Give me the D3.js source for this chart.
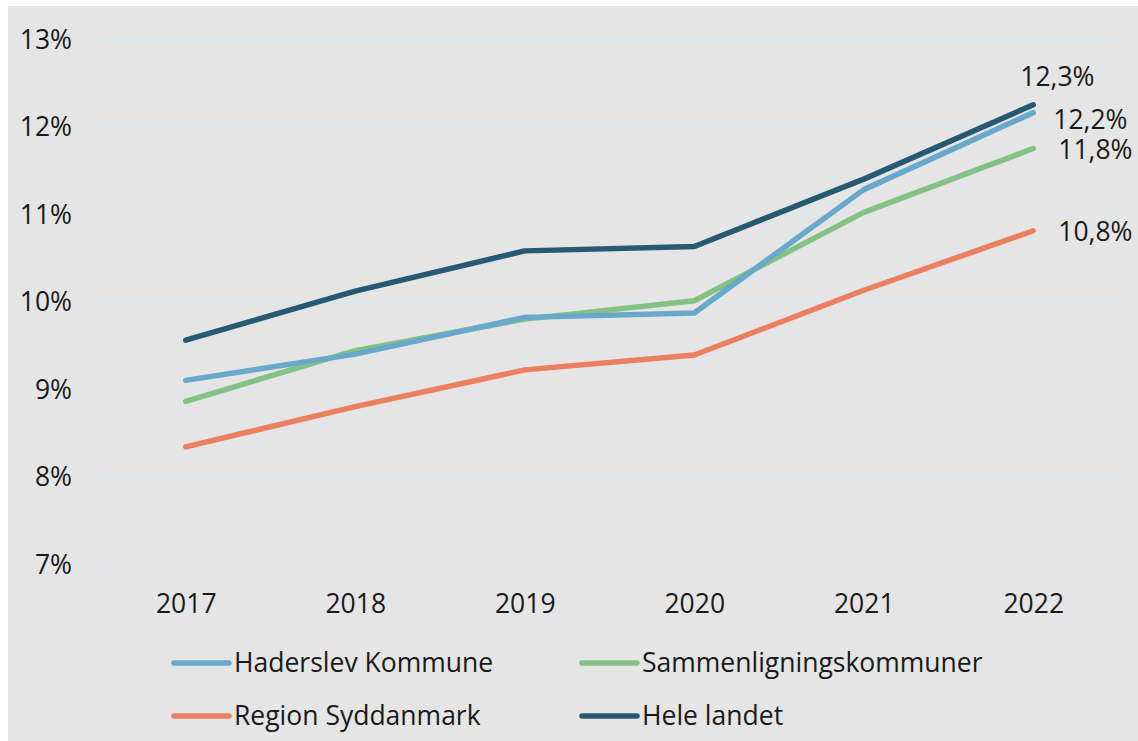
<!DOCTYPE html>
<html>
<head>
<meta charset="utf-8">
<script src="https://cdn.jsdelivr.net/npm/d3@7"></script>
<style>
  html, body { margin: 0; padding: 0; background: #ffffff; }
  svg { display: block; font-family: "Open Sans", "Noto Sans", sans-serif; }
</style>
</head>
<body>
<div id="chart-wrapper"></div>
<script>
const years = ["2017", "2018", "2019", "2020", "2021", "2022"];
const haderslev = [9.11, 9.41, 9.83, 9.88, 11.29, 12.17];
const sammenligning = [8.87, 9.45, 9.81, 10.02, 11.03, 11.76];
const region = [8.35, 8.81, 9.23, 9.40, 10.14, 10.82];
const heleLandet = [9.57, 10.13, 10.59, 10.64, 11.41, 12.26];
const yTicks = [7, 8, 9, 10, 11, 12, 13];

const series = [
      { name: "Haderslev Kommune", values: haderslev, color: "#68a8cb", labelDx: 20, labelDy: 7 },
      { name: "Sammenligningskommuner", values: sammenligning, color: "#84c283", labelDx: 25, labelDy: 1 },
      { name: "Region Syddanmark", values: region, color: "#ec7f5f", labelDx: 25, labelDy: 1 },
      { name: "Hele landet", values: heleLandet, color: "#275a72", labelDx: -13, labelDy: -28 }
];
// draw order: the dark line sits on top
const drawOrder = [2, 1, 0, 3];

const width = 1138, height = 741;
const fontSize = 26.5;
const dk = d3.formatLocale({ decimal: ",", thousands: ".", grouping: [3], currency: ["", " kr."] });
const pct = dk.format(".1f");

const svg = d3.select("#chart-wrapper").append("svg")
      .attr("width", width)
      .attr("height", height);

// grey panel
svg.append("rect")
      .attr("x", 8).attr("y", 6)
      .attr("width", width - 8).attr("height", height - 6)
      .attr("fill", "#e5e5e5");

const x = d3.scalePoint()
      .domain(years)
      .range([101, 1118])
      .padding(0.5);

const y = d3.scaleLinear()
      .domain([7, 13])
      .range([565, 40]);

// gridlines
svg.append("g")
      .selectAll("line")
      .data(yTicks)
      .join("line")
      .attr("x1", 100).attr("x2", 1118)
      .attr("y1", d => y(d)).attr("y2", d => y(d))
      .attr("stroke", "#dbe7ef")
      .attr("stroke-width", 2);

// y axis
const yAxis = svg.append("g")
      .attr("transform", "translate(72,0)")
      .call(d3.axisLeft(y).tickValues(yTicks).tickSize(0).tickPadding(0).tickFormat(d => d + "%"));
yAxis.select(".domain").remove();
yAxis.selectAll("text")
      .attr("font-size", fontSize)
      .attr("fill", "#1a1a1a")
      .attr("font-family", "'Open Sans', sans-serif");

// x axis
const xAxis = svg.append("g")
      .attr("transform", "translate(0,604)")
      .call(d3.axisBottom(x).tickSize(0).tickPadding(0));
xAxis.select(".domain").remove();
xAxis.selectAll("text")
      .attr("font-size", fontSize)
      .attr("fill", "#1a1a1a")
      .attr("dy", "0.35em")
      .attr("font-family", "'Open Sans', sans-serif");

const line = d3.line()
      .x((d, i) => x(years[i]))
      .y(d => y(d));

drawOrder.forEach(k => {
      const s = series[k];
      svg.append("path")
            .datum(s.values)
            .attr("fill", "none")
            .attr("stroke", s.color)
            .attr("stroke-width", 5.5)
            .attr("stroke-linecap", "round")
            .attr("stroke-linejoin", "round")
            .attr("d", line);
});

// end labels
series.forEach(s => {
      const last = s.values.length - 1;
      svg.append("text")
            .attr("x", x(years[last]) + s.labelDx)
            .attr("y", y(s.values[last]) + s.labelDy)
            .attr("dy", "0.35em")
            .attr("font-size", fontSize)
            .attr("fill", "#1a1a1a")
            .text(pct(s.values[last]) + "%");
});

// legend
const legendPos = [
      { lx: 174, ly: 663 },
      { lx: 582, ly: 663 },
      { lx: 174, ly: 716 },
      { lx: 582, ly: 716 }
];
const legend = svg.append("g");
series.forEach((s, i) => {
      const p = legendPos[i];
      legend.append("line")
            .attr("x1", p.lx).attr("x2", p.lx + 55)
            .attr("y1", p.ly).attr("y2", p.ly)
            .attr("stroke", s.color)
            .attr("stroke-width", 5.5)
            .attr("stroke-linecap", "round");
      legend.append("text")
            .attr("x", p.lx + 60)
            .attr("y", p.ly)
            .attr("dy", "0.35em")
            .attr("font-size", fontSize)
            .attr("fill", "#1a1a1a")
            .text(s.name);
});
</script>
</body>
</html>
